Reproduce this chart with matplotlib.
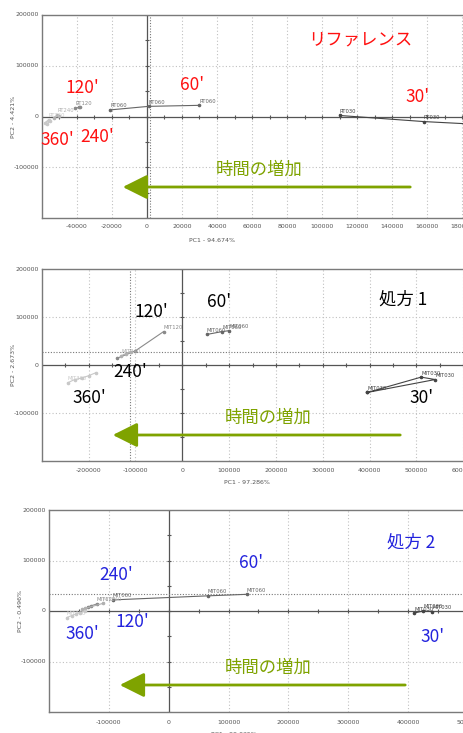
import matplotlib.pyplot as plt
from matplotlib.patches import FancyArrowPatch

plt.rcParams['font.family'] = ['Noto Sans CJK JP', 'DejaVu Sans']

W, H = 464, 733

# --- reference (RT) scores ---
rt_groups = ["RT030", "RT060", "RT120", "RT240", "RT360"]
rt_x = [[110000, 158000, 186000],
        [-21000, 1000, 30000],
        [-41000, -38000, -39000],
        [-51000, -53000, -50000],
        [-56000, -58000, -55000, -57000]]
rt_y = [[2000, -10000, -15000],
        [13000, 20000, 22000],
        [17000, 18000, 19000],
        [3000, -2000, 1000],
        [-6000, -12000, -9000, -15000]]

# --- formulation 1 (MIT) scores ---
f1_groups = ["MIT030", "MIT060", "MIT120", "MIT240", "MIT360"]
f1_x = [[395000, 510000, 540000, 395000],
        [52000, 85000, 100000],
        [-40000, -100000, -140000],
        [-130000, -110000, -120000],
        [-245000, -230000, -215000, -200000, -185000]]
f1_y = [[-57000, -25000, -30000, -57000],
        [64000, 70000, 72000],
        [70000, 30000, 14000],
        [20000, 28000, 24000],
        [-37000, -30000, -27000, -22000, -16000]]

# --- formulation 2 (MIT) scores ---
f2_x = [[410000, 425000, 440000],
        [-93000, 65000, 130000],
        [-120000, -130000, -135000],
        [-110000, -140000, -145000],
        [-170000, -162000, -155000, -148000, -140000]]
f2_y = [[-4000, 0, -1000],
        [22000, 30000, 33000],
        [14000, 10000, 8000],
        [15000, 5000, 3000],
        [-13000, -9000, -6000, -3000, 0]]

group_colors = ["#444444", "#666666", "#8a8a8a", "#b0b0b0", "#c8c8c8"]
# how many points of each group carry a name tag
tag_counts = [3, 3, 1, 1, 1]

panels = [
    dict(box=(41.7, 15, 480, 218), xlim=(-60000, 190000),
         xticks=list(range(-40000, 200001, 20000)), yticks=[-100000, 0, 100000, 200000],
         axis_step=10000, names=rt_groups, xs=rt_x, ys=rt_y,
         xlabel="PC1 - 94.674%", ylabel="PC2 - 4.421%",
         xlab_y=240, tick_y=227, ylab_x=14, ref_x=1500, ref_y=None),
    dict(box=(41.8, 269.3, 482, 461), xlim=(-300000, 640000),
         xticks=list(range(-200000, 600001, 100000)), yticks=[-100000, 0, 100000, 200000],
         axis_step=50000, names=f1_groups, xs=f1_x, ys=f1_y,
         xlabel="PC1 - 97.286%", ylabel="PC2 - 2.673%",
         xlab_y=482, tick_y=470, ylab_x=14, ref_x=-112000, ref_y=28000),
    dict(box=(48.9, 510, 504, 712), xlim=(-200000, 560000),
         xticks=list(range(-100000, 500001, 100000)), yticks=[-100000, 0, 100000, 200000],
         axis_step=50000, names=f1_groups, xs=f2_x, ys=f2_y,
         xlabel="PC1 - 99.035%", ylabel="PC2 - 0.496%",
         xlab_y=734, tick_y=722, ylab_x=21, ref_x=None, ref_y=33000),
]

fig = plt.figure(figsize=(W / 100, H / 100), dpi=100)


def fx(px):
    return px / W


def fy(py):
    return 1 - py / H


tick_font = dict(family='Liberation Sans Narrow', fontsize=4.5, color='#555555')

for p in panels:
    l, t, r, b = p["box"]
    ax = fig.add_axes([fx(l), fy(b), fx(r - l), (b - t) / H])
    ax.set_xlim(*p["xlim"])
    ax.set_ylim(-200000, 200000)
    ax.set_xticks([])
    ax.set_yticks([])
    for s in ax.spines.values():
        s.set_color('#7a7a7a')
        s.set_linewidth(1.0)

    # dotted grid
    for xv in p["xticks"]:
        if xv != 0:
            ax.axvline(xv, color='#c0c0c0', lw=0.8, ls=(0, (1, 2)), zorder=0)
    for yv in [-100000, 100000]:
        ax.axhline(yv, color='#c0c0c0', lw=0.8, ls=(0, (1, 2)), zorder=0)

    # origin axes with small ticks
    ax.axhline(0, color='#555555', lw=0.9, zorder=1)
    ax.axvline(0, color='#555555', lw=0.9, zorder=1)
    step = p["axis_step"]
    xt = list(range(int(p["xlim"][0] // step * step), int(p["xlim"][1]) + 1, step))
    ax.plot(xt, [0] * len(xt), ls='none', marker='|', ms=2.2, mew=0.8, color='#555555')
    yt = list(range(-200000, 200001, 50000))
    ax.plot([0] * len(yt), yt, ls='none', marker='_', ms=2.2, mew=0.8, color='#555555')

    if p["ref_x"] is not None:
        ax.axvline(p["ref_x"], color='#777777', lw=0.8, ls=(0, (1, 1.5)), zorder=1)
    if p["ref_y"] is not None:
        ax.axhline(p["ref_y"], color='#777777', lw=0.8, ls=(0, (1, 1.5)), zorder=1)

    # score trajectories
    for name, xs, ys, c, n in zip(p["names"], p["xs"], p["ys"], group_colors, tag_counts):
        ax.plot(xs, ys, color=c, lw=0.8, marker='o', ms=1.6, zorder=3)
        for x, y in zip(xs[:n], ys[:n]):
            ax.text(x, y + 3000, name, fontsize=3.8, color=c,
                    family='Liberation Sans Narrow', ha='left', va='bottom', zorder=4)

    # tick labels
    x0, x1 = p["xlim"]
    for xv in p["xticks"]:
        px = l + (xv - x0) / (x1 - x0) * (r - l)
        fig.text(fx(px), fy(p["tick_y"]), str(xv), ha='center', va='center', **tick_font)
    for yv in p["yticks"]:
        py = b - (yv + 200000) / 400000 * (b - t)
        fig.text(fx(l - 3), fy(py), str(yv), ha='right', va='center', **tick_font)

    fig.text(fx(l + (0 - x0) / (x1 - x0) * (r - l) + 65), fy(p["xlab_y"]), p["xlabel"],
             ha='center', va='center', **tick_font)
    fig.text(fx(p["ylab_x"]), fy((t + b) / 2), p["ylabel"], rotation=90,
             ha='center', va='center', **tick_font)

green = '#7fa300'
big = 12.5

# panel annotations (figure pixel positions)
notes = [
    ("リファレンス", 360, 40, '#ff1010'),
    ("120'", 82, 88, '#ff1010'), ("60'", 192, 85, '#ff1010'), ("30'", 418, 97, '#ff1010'),
    ("360'", 57, 140, '#ff1010'), ("240'", 97, 137, '#ff1010'),
    ("処方 1", 403, 300, 'black'),
    ("120'", 151, 312, 'black'), ("60'", 219, 302, 'black'), ("240'", 130, 372, 'black'),
    ("360'", 89, 398, 'black'), ("30'", 422, 398, 'black'),
    ("処方 2", 411, 543, '#2323dd'),
    ("60'", 251, 563, '#2323dd'), ("240'", 116, 575, '#2323dd'), ("120'", 132, 622, '#2323dd'),
    ("360'", 82, 634, '#2323dd'), ("30'", 433, 637, '#2323dd'),
]
for s, x, y, c in notes:
    fig.text(fx(x), fy(y), s, fontsize=big, color=c, ha='center', va='center')

for ty, ay, x_start, x_end, tx in [(170, 187, 413, 120, 259),
                                   (418, 435, 403, 110, 268),
                                   (668, 685, 408, 117, 268)]:
    fig.text(fx(tx), fy(ty), "時間の増加", fontsize=big, color=green, ha='center', va='center')
    fig.patches.append(FancyArrowPatch((fx(x_start), fy(ay)), (fx(x_end), fy(ay)),
                                       transform=fig.transFigure, arrowstyle='-|>,head_length=6,head_width=3',
                                       mutation_scale=2.5, lw=2, color=green))

fig.savefig("out.png", dpi=100)
